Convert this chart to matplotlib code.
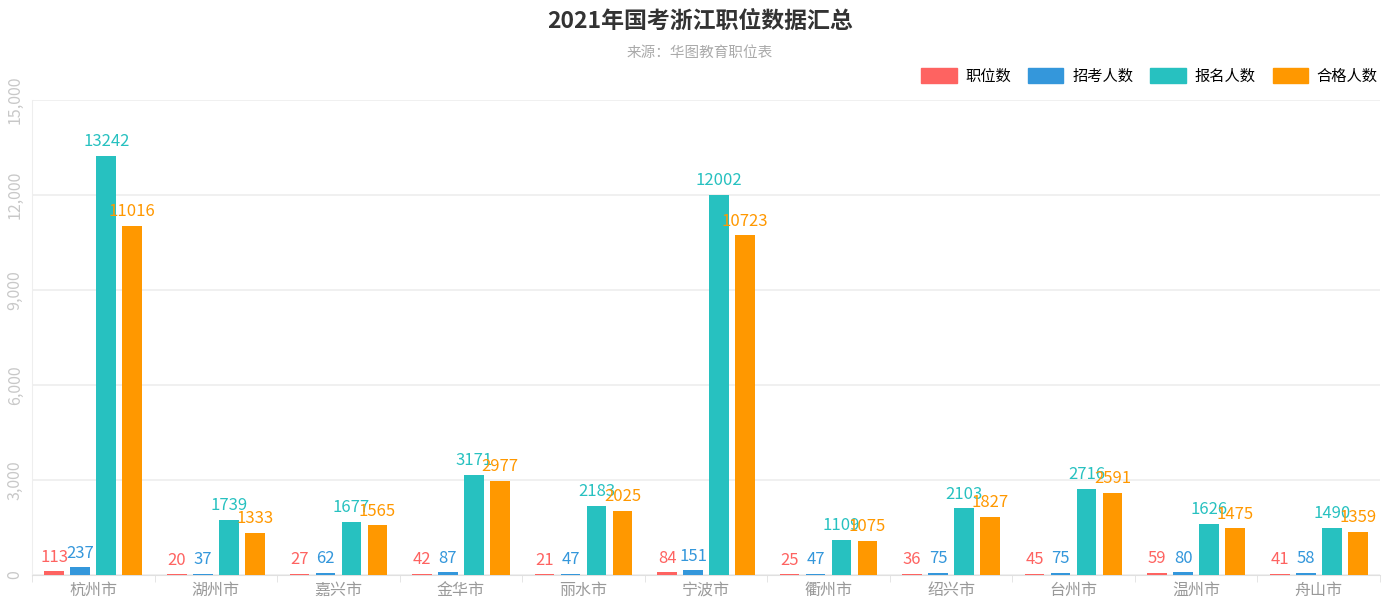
import matplotlib
matplotlib.use('Agg')
import matplotlib.pyplot as plt
import matplotlib.patches as mpatches
import numpy as np

plt.rcParams['font.family'] = ['Noto Sans CJK SC', 'DejaVu Sans']

# data
cities = ['杭州市', '湖州市', '嘉兴市', '金华市', '丽水市', '宁波市', '衢州市', '绍兴市', '台州市', '温州市', '舟山市']
posts = [113, 20, 27, 42, 21, 84, 25, 36, 45, 59, 41]
hires = [237, 37, 62, 87, 47, 151, 47, 75, 75, 80, 58]
applicants = [13242, 1739, 1677, 3171, 2183, 12002, 1109, 2103, 2716, 1626, 1490]
qualified = [11016, 1333, 1565, 2977, 2025, 10723, 1075, 1827, 2591, 1475, 1359]

series_names = ['职位数', '招考人数', '报名人数', '合格人数']
colors = ['#fe6361', '#3497db', '#27c1c0', '#ff9800']
series = [posts, hires, applicants, qualified]
yticks = [0, 3000, 6000, 9000, 12000, 15000]

fig = plt.figure(figsize=(14, 6.13), dpi=100)
ax = fig.add_axes([32/1400, 1 - 575/613, (1380-32)/1400, 475/613])

x = np.arange(len(cities))
width = 0.16
offsets = [-0.318, -0.106, 0.106, 0.318]

for vals, c, off, name in zip(series, colors, offsets, series_names):
    bars = ax.bar(x + off, vals, width, color=c, label=name, zorder=3)
    for b, v in zip(bars, vals):
        ax.text(b.get_x() + b.get_width()/2, v + 180, str(v), ha='center', va='bottom',
                color=c, fontsize=12, zorder=4)

ax.set_xlim(-0.5, len(cities) - 0.5)
ax.set_ylim(0, 15000)
ax.set_yticks(yticks)
ax.set_yticklabels(['{:,}'.format(t) for t in yticks], rotation=90, va='center',
                   color='#c8c8c8', fontsize=11.5)
ax.tick_params(axis='y', length=0, pad=6)
ax.grid(axis='y', color='#eeeeee', linewidth=1.2, zorder=0)

ax.set_xticks(x)
ax.set_xticklabels(cities, color='#999999', fontsize=11.5)
ax.set_xticks(np.arange(len(cities) + 1) - 0.5, minor=True)
ax.tick_params(axis='x', which='major', length=0, pad=5)
ax.tick_params(axis='x', which='minor', length=5, color='#e0e0e0')

for s in ['top', 'right']:
    ax.spines[s].set_visible(False)
ax.spines['left'].set_color('#eeeeee')
ax.spines['bottom'].set_color('#e0e0e0')

handles = [mpatches.Patch(color=c) for c in colors]
fig.legend(handles, series_names, loc='center right', bbox_to_anchor=(0.994, 0.876), ncol=4,
           frameon=False, fontsize=11, handlelength=2.3, handleheight=1.2,
           columnspacing=1.1, handletextpad=0.6)

fig.text(0.5, 0.965, '2021年国考浙江职位数据汇总', ha='center', va='center',
         fontsize=16.5, fontweight='bold', color='#333333')
fig.text(0.5, 0.913, '来源：华图教育职位表', ha='center', va='center',
         fontsize=10.5, color='#aaaaaa')

fig.savefig('out.png', dpi=100, facecolor='white')
